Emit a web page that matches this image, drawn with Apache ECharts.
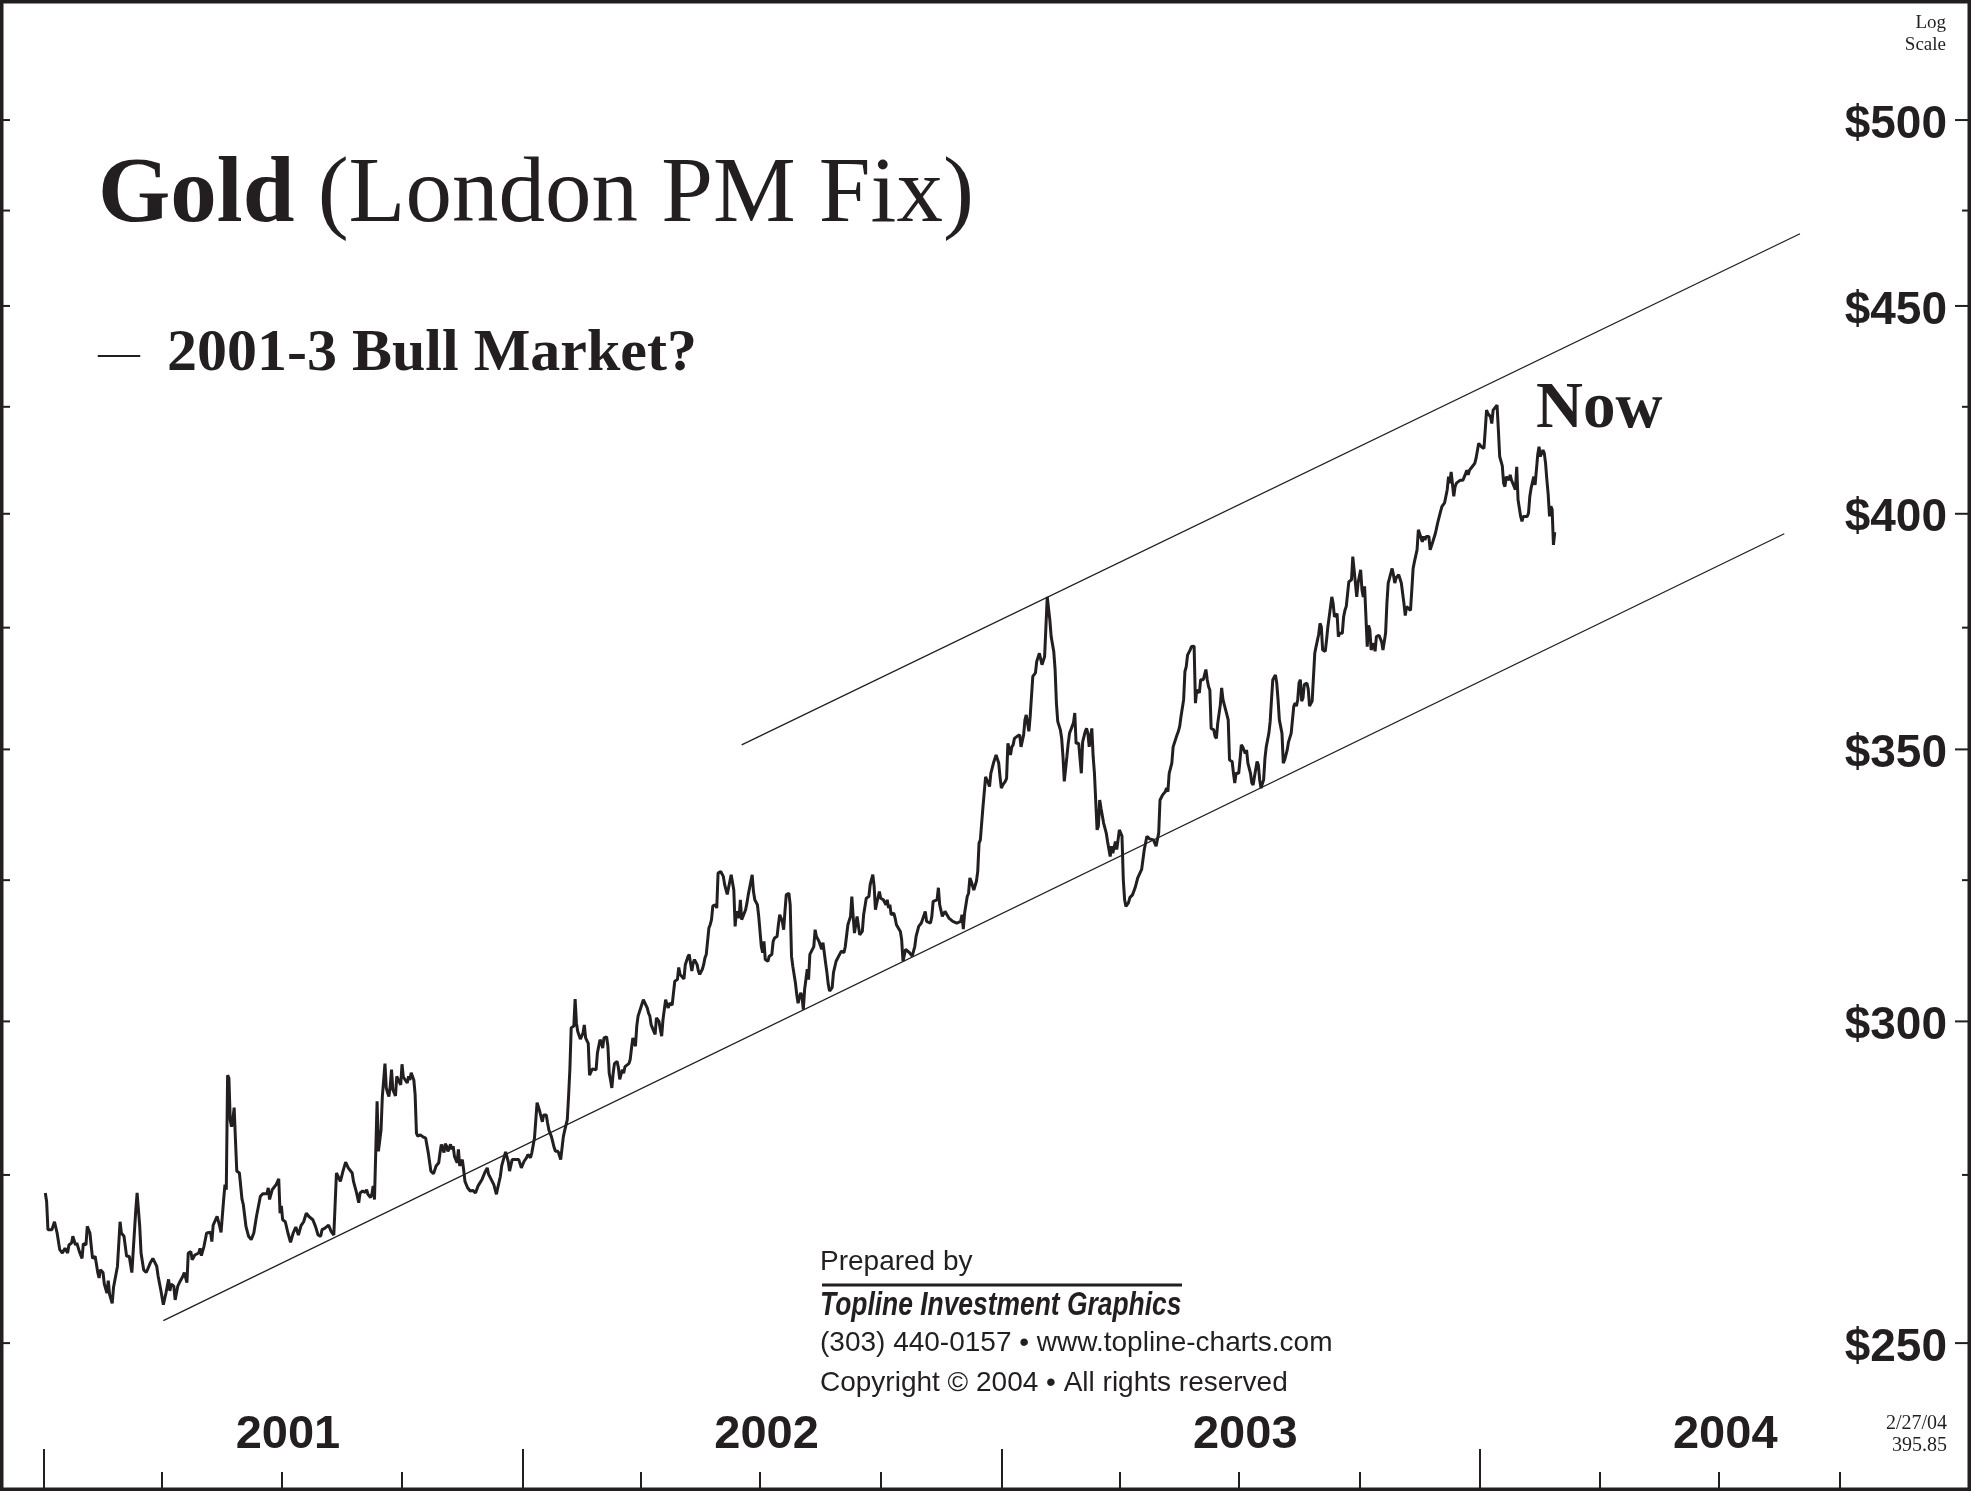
<!DOCTYPE html>
<html lang="en">
<head>
<meta charset="UTF-8">
<title>Gold (London PM Fix)</title>
<style>
	body{
		margin: 0;
		background: #fff;
	}
	#main{
		width: 1971px;
		height: 1491px;
	}
</style>
<script src="https://cdn.jsdelivr.net/npm/echarts@6.0.0/dist/echarts.min.js"></script>
</head>
<body>
<div id="main"></div>
<script>
// London PM fix: day of year (0 = Jan 1) and price
var doy2001 = [1,2,3,6,8,10,12,14,16,18,19,21,22,24,25,27,29,30,32,33,35,37,39,41,42,43,45,46,48,49,50,52,53,56,58,59,61,63,65,67,70,71,73,74,76,78,81,83,86,87,89,91,93,95,96,97,99,100,102,104,106,107,109,110,112,113,115,118,119,120,122,124,127,128,129,132,134,135,137,138,139,140,141,142,143,144,145,146,147,149,151,152,154,156,158,160,162,165,167,170,171,172,174,175,177,179,180,181,182,184,186,188,190,192,194,196,198,200,202,205,207,209,211,212,214,215,217,219,221,223,224,226,228,230,232,235,236,238,239,240,241,243,245,246,247,249,250,251,252,254,255,256,257,258,260,261,262,263,264,265,266,268,269,270,272,273,274,275,277,278,279,280,282,283,284,285,287,289,291,293,295,297,299,301,302,303,305,306,307,308,310,311,312,313,315,316,317,319,320,321,323,325,327,329,331,334,336,338,339,341,343,345,346,348,349,351,352,354,355,357,359,362,364];
var px2001 = [272.2,270.9,266.6,266.6,267.8,266.1,263.6,263.1,263.8,263.1,264.3,264.6,265.6,264.3,264.6,263.3,262.3,264.5,264.3,267.1,266.1,262.3,262.6,260.2,259.4,260.6,260.2,258.5,257.2,259.0,257.0,255.7,258.0,261.1,267.8,266.1,265.6,262.6,262.6,260.2,269.6,272.2,267.1,263.1,260.6,260.2,261.6,262.3,261.1,259.7,257.7,255.5,257.2,259.2,257.5,258.5,258.2,256.2,258.2,259.0,259.7,260.2,258.7,263.1,263.3,262.1,262.8,263.1,263.8,262.7,264.1,266.1,266.2,264.8,267.3,268.6,267.1,266.2,271.2,273.5,272.7,291.0,290.5,283.7,282.6,283.7,285.7,280.5,275.6,275.3,271.2,270.4,267.1,265.6,265.1,266.1,268.6,271.7,272.1,272.1,273.0,271.2,272.7,272.5,273.5,274.4,269.1,270.2,268.1,267.8,266.1,264.7,266.1,267.0,265.8,267.2,267.8,269.1,268.6,268.1,267.1,265.8,265.6,266.6,266.8,266.6,267.3,266.3,265.8,275.3,275.1,274.0,275.6,277.0,276.1,275.3,274.0,272.5,272.2,270.7,272.2,272.5,272.3,272.7,272.0,271.5,272.0,273.3,271.2,286.7,278.7,279.0,282.1,287.5,292.9,288.9,288.1,287.5,289.2,291.9,288.6,287.6,290.8,291.0,289.4,292.8,290.7,290.5,289.7,290.8,290.2,291.4,290.2,287.8,281.6,281.1,281.3,281.0,280.8,278.5,275.6,275.2,276.4,276.9,278.5,279.8,278.5,279.9,279.5,278.7,279.8,279.0,279.5,277.9,276.9,279.0,276.4,277.4,275.8,274.0,273.0,272.5,272.6,272.2,273.3,274.3,275.3,276.1,275.1,274.3,273.5,272.0,273.0,274.8,276.4,277.9,278.6,277.1,275.6,277.4,277.4,277.4,276.1];

var doy2002 = [1,3,4,6,7,8,9,11,12,13,15,16,18,19,20,22,24,25,27,29,31,32,34,35,36,37,39,40,41,42,43,44,46,47,48,50,51,53,54,56,57,59,60,61,62,64,65,66,67,68,69,70,72,73,74,76,77,78,79,81,82,83,84,86,87,88,90,92,93,95,96,97,98,100,101,102,104,105,106,107,109,110,111,112,114,115,116,118,119,120,121,123,124,126,127,128,129,130,131,133,134,135,137,138,139,140,142,143,144,145,147,148,149,151,152,153,154,156,157,158,159,161,162,163,165,166,167,168,170,171,172,173,175,176,177,179,180,181,182,183,184,185,187,188,190,191,192,194,195,196,198,199,200,201,203,204,205,206,208,209,210,212,213,214,215,217,218,219,220,222,223,224,226,227,228,229,231,232,233,234,236,237,239,241,243,245,246,247,248,250,251,252,253,255,256,257,259,260,262,264,265,267,268,269,270,272,273,275,277,278,279,280,281,283,284,285,286,288,289,290,292,293,295,297,298,299,300,302,303,304,305,307,308,309,311,312,313,314,316,317,318,320,321,322,323,325,326,328,331,334,335,336,337,339,340,341,342,344,345,346,347,348,349,350,351,352,353,355,356,357,359,361,363,364];
var px2002 = [277.1,277.7,278.2,277.7,278.5,278.5,280.8,286.5,286.2,285.1,283.4,284.5,284.5,283.2,282.1,281.0,279.3,278.7,278.7,277.4,281.0,282.0,283.7,287.5,292.0,298.9,299.2,303.8,299.7,298.3,298.6,297.0,298.0,299.4,297.2,296.3,291.0,292.0,291.9,291.9,294.7,296.9,296.5,295.5,297.2,297.4,295.8,291.3,290.2,288.9,291.3,292.9,293.3,292.2,290.3,291.9,291.3,292.4,292.2,292.9,293.6,295.5,297.2,295.8,299.2,300.9,302.3,303.7,303.7,302.3,301.4,300.9,299.4,298.3,297.8,300.6,300.0,298.6,297.5,300.3,303.7,302.9,302.3,303.1,302.8,304.9,306.9,307.2,309.3,308.1,308.1,307.3,309.8,311.2,311.6,310.1,308.7,310.1,310.7,309.8,308.7,308.1,309.0,309.8,311.0,311.6,316.3,316.9,317.8,320.3,320.5,319.9,326.3,326.6,326.3,325.7,324.2,322.4,323.6,324.8,326.0,323.2,316.6,319.3,318.1,321.4,317.8,318.4,319.6,320.8,322.3,322.6,326.0,322.9,321.4,320.5,318.4,318.1,313.0,311.9,313.9,310.7,310.4,311.3,311.6,313.9,314.5,314.8,316.9,318.7,317.5,316.0,319.3,322.3,322.6,320.5,311.3,309.5,306.6,304.6,303.1,304.9,304.3,302.0,305.5,309.0,307.2,311.6,311.9,313.0,316.0,314.8,313.9,314.2,312.5,313.7,310.1,308.4,306.4,305.2,305.8,308.4,310.4,311.3,312.2,311.9,313.0,312.7,316.9,318.4,322.0,318.4,315.4,318.4,318.1,315.1,315.7,318.7,321.7,322.0,324.2,326.0,323.9,319.6,320.8,322.9,321.7,321.4,320.5,321.4,319.9,320.5,318.7,319.0,318.1,316.9,316.9,315.7,314.2,310.4,312.5,312.5,311.9,311.3,311.6,313.0,314.8,316.6,316.6,317.2,316.9,319.3,317.5,317.8,317.2,318.4,321.1,320.8,321.4,323.6,320.5,318.4,318.7,319.3,319.0,318.1,317.8,317.5,317.2,317.5,318.7,316.1,319.0,322.0,322.6,325.4,324.8,323.2,322.9,324.8,326.6,331.9,332.5,335.7,338.8,338.5,344.6,343.4,342.7,345.3,347.3,348.9,347.3,344.6];

var doy2003 = [0,1,3,4,5,7,8,9,10,12,13,14,15,17,18,19,21,22,23,24,26,27,28,29,31,32,33,34,35,37,38,40,41,42,43,45,46,47,48,50,51,52,54,55,56,57,59,60,61,62,64,65,66,67,69,70,71,73,74,75,76,78,79,80,81,83,84,85,87,88,89,90,92,93,94,95,97,98,100,102,104,107,109,111,112,113,114,116,117,118,120,121,122,123,125,126,127,128,130,131,132,134,135,136,137,139,140,141,142,144,145,146,147,148,149,151,152,153,154,156,157,158,159,160,162,163,164,165,167,168,169,171,172,173,174,176,177,178,179,181,182,183,184,186,187,188,190,191,192,193,195,196,197,198,200,201,202,204,205,206,207,209,210,211,212,214,215,216,218,219,220,221,223,224,225,226,227,228,229,230,231,233,234,235,237,238,239,240,242,243,244,245,247,248,249,250,252,253,254,256,257,258,260,261,262,263,265,266,267,268,270,271,272,274,275,276,277,279,280,281,282,284,285,286,288,289,290,291,293,294,295,296,298,299,300,301,303,304,305,307,308,309,310,312,313,314,315,317,318,319,321,322,323,324,326,327,328,329,331,332,333,335,336,337,338,340,341,342,343,345,346,347,348,350,351,352,354,355,356,357,359,360,361,362,364];
var px2003 = [342.4,343.0,343.7,344.3,351.2,348.9,350.5,350.9,352.2,352.6,352.6,352.9,350.5,352.9,355.9,356.9,353.6,356.6,360.7,364.8,365.5,367.9,368.2,369.6,367.2,367.2,368.9,375.2,381.6,376.6,373.1,369.9,366.2,359.3,355.6,353.9,352.2,348.6,343.7,348.6,351.2,353.2,354.6,355.3,357.3,351.2,351.2,348.2,345.3,351.5,353.6,354.2,353.2,350.5,354.2,348.6,345.3,334.4,335.1,340.1,338.5,335.7,335.4,333.8,332.2,329.4,331.3,330.0,332.2,330.7,332.5,334.4,333.2,325.1,321.4,320.2,320.9,321.8,322.3,323.6,325.4,327.0,330.7,333.2,332.9,332.7,332.5,332.5,331.9,331.3,333.8,340.1,340.4,341.1,341.7,342.4,341.7,345.3,347.3,350.5,350.5,352.9,353.6,354.6,356.6,360.0,365.8,366.8,369.2,370.3,371.0,371.1,371.1,359.3,362.0,361.4,364.1,364.4,364.1,366.2,364.1,362.7,362.0,354.2,353.9,352.6,352.2,355.2,359.0,362.4,360.0,358.0,357.6,355.9,347.9,347.6,345.3,343.4,345.3,345.3,347.9,350.9,350.5,349.2,349.9,347.3,345.3,343.4,343.0,344.6,347.6,346.9,344.0,342.4,344.0,348.2,350.5,353.2,355.6,360.0,364.1,365.1,363.4,360.0,355.9,353.2,347.3,347.9,349.9,351.5,351.5,353.2,358.7,359.3,358.7,360.0,363.4,364.1,359.7,360.3,363.1,363.4,362.2,358.7,359.7,360.0,369.6,371.0,373.6,375.9,375.2,370.3,370.0,372.4,375.2,377.3,381.6,380.2,377.3,378.0,373.1,373.8,373.8,377.3,378.7,379.5,384.9,384.6,385.3,390.4,384.6,381.6,384.6,387.5,383.1,381.6,383.9,371.0,375.5,374.5,370.3,371.7,370.0,373.1,373.4,373.1,372.0,370.3,373.8,380.2,384.6,384.9,387.8,386.4,384.6,385.7,386.4,386.0,384.6,380.2,377.6,379.5,379.8,378.7,383.1,387.8,389.3,391.9,396.4,396.4,393.7,394.9,394.1,394.9,394.9,391.9,391.5,393.7,395.6,395.6,398.3,400.6,401.7,402.1,402.5,405.5,408.5,407.0,409.6,404.0,406.2,407.0,407.3,407.7,408.1,407.7,409.2,410.0,408.9,410.0,410.8,411.2,411.6,412.8,416.3];

var doy2004 = [0,1,3,4,5,6,8,9,10,11,13,14,15,17,18,19,20,22,23,24,25,27,28,29,31,32,33,34,36,37,38,39,41,42,43,44,45,46,48,49,50,51,52,53,54,55,56,57];
var px2004 = [415.9,415.5,415.1,419.5,424.2,423.4,422.6,421.0,424.2,424.6,425.4,419.5,413.2,411.0,407.0,406.2,408.5,407.7,408.9,407.7,407.3,405.5,410.8,403.2,399.4,398.3,399.4,399.0,399.4,400.2,404.0,405.9,408.5,406.6,410.0,413.6,415.5,413.2,414.7,414.0,411.6,407.7,404.4,399.4,401.7,401.0,393.0,395.85];

// channel lines drawn on the chart
var lowerChannel = [['2001-04-02', 253.2], ['2004-08-20', 395.5]];
var upperChannel = [['2002-06-17', 350.9], ['2004-09-01', 468.8]];

// axis ticks
var yearTicks = [2001, 2002, 2003, 2004];
var priceTicks = [250, 275, 300, 325, 350, 375, 400, 425, 450, 475, 500];

var INK = '#231f20';
var DAY = 86400000;
var T0 = Date.UTC(2001, 0, 1);
var xMin = T0 - 33.55 * DAY;
var xMax = T0 + 1469.4 * DAY;

function build(year, days, prices){
	return days.map(function(d, i){
		return [Date.UTC(year, 0, 1 + d), prices[i]];
	});
}
var gold = [].concat(
	build(2001, doy2001, px2001),
	build(2002, doy2002, px2002),
	build(2003, doy2003, px2003),
	build(2004, doy2004, px2004)
);
function toLine(pts){
	return pts.map(function(p){ return [new Date(p[0]).getTime(), p[1]]; });
}

var yearStarts = yearTicks.map(function(y){ return Date.UTC(y, 0, 1); });
var yearMids = yearTicks.map(function(y){ return Date.UTC(y, 6, 6); });
var quarters = [];
yearTicks.forEach(function(y){
	[3, 6, 9].forEach(function(m){ quarters.push(Date.UTC(y, m, 1)); });
});

var chart = echarts.init(document.getElementById('main'));

var option = {
	animation: false,
	backgroundColor: '#fff',
	grid: {left: 0, right: 0, top: 0, bottom: 0, containLabel: false, outerBoundsMode: 'none'},
	xAxis: [{
		type: 'value',
		position: 'bottom',
		min: xMin,
		max: xMax,
		axisLine: {show: false},
		splitLine: {show: false},
		axisTick: {
			inside: true,
			length: 42,
			customValues: yearStarts,
			lineStyle: {color: INK, width: 2}
		},
		axisLabel: {
			inside: true,
			margin: 32,
			customValues: yearMids,
			color: INK,
			fontFamily: 'Liberation Sans',
			fontWeight: 'bold',
			fontSize: 47,
			formatter: function(v){ return String(new Date(v).getUTCFullYear()); }
		}
	}, {
		// quarter ticks
		type: 'value',
		position: 'bottom',
		min: xMin,
		max: xMax,
		axisLine: {show: false},
		splitLine: {show: false},
		axisLabel: {show: false},
		axisTick: {
			inside: true,
			length: 19,
			customValues: quarters,
			lineStyle: {color: INK, width: 2}
		}
	}],
	yAxis: {
		type: 'log',
		logBase: 10,
		min: 229.9,
		max: 535.2,
		axisLine: {show: false},
		axisTick: {show: false},
		axisLabel: {show: false},
		splitLine: {show: false}
	},
	series: [{
		name: 'Gold',
		type: 'line',
		data: gold,
		showSymbol: false,
		symbol: 'none',
		lineStyle: {color: INK, width: 3},
		z: 5
	}, {
		type: 'line',
		data: toLine(lowerChannel),
		symbol: 'none',
		lineStyle: {color: INK, width: 1.3},
		silent: true
	}, {
		type: 'line',
		data: toLine(upperChannel),
		symbol: 'none',
		lineStyle: {color: INK, width: 1.3},
		silent: true
	}, {
		// price ticks on both frame edges, labels on the right
		type: 'custom',
		silent: true,
		data: priceTicks.map(function(v){ return [xMin, v]; }),
		encode: {x: 0, y: 1},
		renderItem: function(params, api){
			var v = api.value(1);
			var y = api.coord([api.value(0), v])[1];
			var L = params.coordSys.x;
			var R = params.coordSys.x + params.coordSys.width;
			var major = v % 50 === 0;
			var kids = [
				{type: 'line', shape: {x1: R - (major ? 16 : 9), y1: y, x2: R, y2: y}, style: {stroke: INK, lineWidth: 2}},
				{type: 'line', shape: {x1: L, y1: y, x2: L + 10, y2: y}, style: {stroke: INK, lineWidth: 2}}
			];
			if (major) {
				kids.push({type: 'text', style: {
					text: '$' + v, x: R - 24, y: y + 5,
					align: 'right', verticalAlign: 'middle',
					font: 'bold 46px "Liberation Sans"', fill: INK
				}});
			}
			return {type: 'group', children: kids};
		}
	}],
	graphic: [
		{type: 'rect', shape: {x: 0, y: 0, width: 1971, height: 1491}, style: {fill: 'transparent', stroke: INK, lineWidth: 7}, z: 100, silent: true},
		{type: 'text', x: 98, y: 150, style: {
			text: '{b|Gold} (London PM Fix)',
			fontFamily: 'Liberation Serif', fontSize: 93, fill: INK, verticalAlign: 'top',
			rich: {b: {fontFamily: 'Liberation Serif', fontSize: 93, fontWeight: 'bold', fill: INK}}
		}},
		{type: 'text', x: 98, y: 334, style: {text: '—', font: '42px "Liberation Serif"', fill: INK, verticalAlign: 'top'}},
		{type: 'text', x: 167, y: 324, style: {text: '2001-3 Bull Market?', font: 'bold 60px "Liberation Serif"', fill: INK, verticalAlign: 'top'}},
		{type: 'text', x: 1536, y: 378, style: {text: 'Now', font: 'bold 65px "Liberation Serif"', fill: INK, verticalAlign: 'top'}},
		{type: 'text', x: 1946, y: 14, style: {text: 'Log', font: '19px "Liberation Serif"', fill: INK, align: 'right', verticalAlign: 'top'}},
		{type: 'text', x: 1946, y: 36, style: {text: 'Scale', font: '19px "Liberation Serif"', fill: INK, align: 'right', verticalAlign: 'top'}},
		{type: 'text', x: 1947, y: 1414, style: {text: '2/27/04', font: '20px "Liberation Serif"', fill: INK, align: 'right', verticalAlign: 'top'}},
		{type: 'text', x: 1947, y: 1436, style: {text: '395.85', font: '20px "Liberation Serif"', fill: INK, align: 'right', verticalAlign: 'top'}},
		{type: 'text', x: 820, y: 1248, style: {text: 'Prepared by', font: '28px "Liberation Sans"', fill: INK, verticalAlign: 'top'}},
		{type: 'line', shape: {x1: 822, y1: 1285, x2: 1182, y2: 1285}, style: {stroke: INK, lineWidth: 3}},
		{type: 'text', x: 820, y: 1289, scaleX: 0.8, style: {text: 'Topline Investment Graphics', font: 'italic bold 33px "Liberation Sans"', fill: INK, verticalAlign: 'top'}},
		{type: 'text', x: 820, y: 1329, style: {text: '(303) 440-0157 \u2022 www.topline-charts.com', font: '28px "Liberation Sans"', fill: INK, verticalAlign: 'top'}},
		{type: 'text', x: 820, y: 1369, style: {text: 'Copyright \u00a9 2004 \u2022 All rights reserved', font: '28px "Liberation Sans"', fill: INK, verticalAlign: 'top'}}
	]
};

chart.setOption(option);
</script>
</body>
</html>
